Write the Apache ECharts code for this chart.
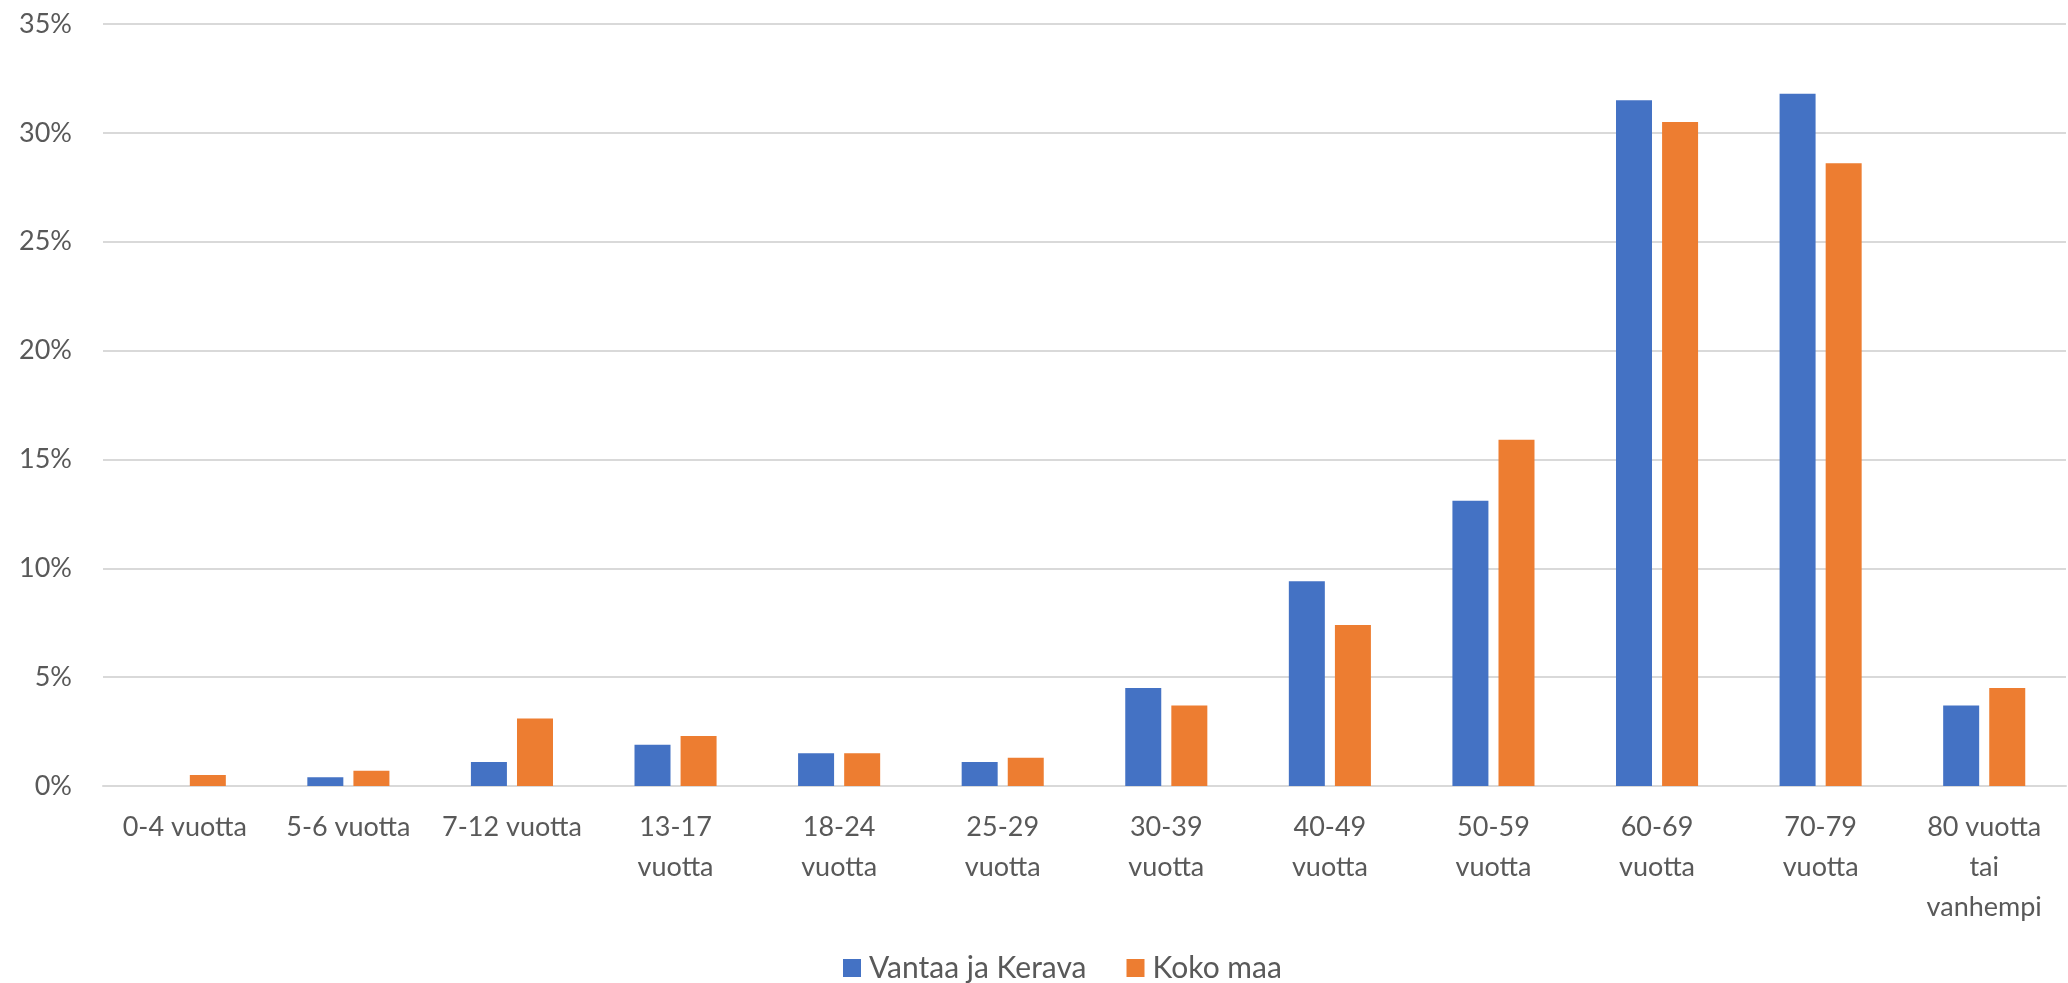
<!DOCTYPE html>
<html>
<head>
<meta charset="utf-8">
<script src="https://cdn.jsdelivr.net/npm/echarts@6/dist/echarts.min.js"></script>
<style>html,body{margin:0;padding:0;background:#fff}#c{width:2068px;height:983px}</style>
</head>
<body>
<div id="c"></div>
<script>
const categories = ['0-4 vuotta','5-6 vuotta','7-12 vuotta','13-17\nvuotta','18-24\nvuotta','25-29\nvuotta','30-39\nvuotta','40-49\nvuotta','50-59\nvuotta','60-69\nvuotta','70-79\nvuotta','80 vuotta\ntai\nvanhempi'];
const seriesNames = ['Vantaa ja Kerava','Koko maa'];
const vantaaKerava = [0, 0.4, 1.1, 1.9, 1.5, 1.1, 4.5, 9.4, 13.1, 31.5, 31.8, 3.7];
const kokoMaa = [0.5, 0.7, 3.1, 2.3, 1.5, 1.3, 3.7, 7.4, 15.9, 30.5, 28.6, 4.5];
const yTicks = {min: 0, max: 35, interval: 5};

const font = 'Lato, "Open Sans", sans-serif';
const chart = echarts.init(document.getElementById('c'), null, {renderer: 'canvas'});
chart.setOption({
  animation: false,
  color: ['#4472C4', '#ED7D31'],
  grid: {left: 103, right: 2, top: 24, bottom: 197, containLabel: false},
  legend: {
    data: seriesNames,
    left: 838, top: 948,
    icon: 'rect', itemWidth: 18, itemHeight: 18, itemGap: 40,
    textStyle: {color: '#595959', fontSize: 30, fontFamily: font, padding: [0, 0, 0, 3]}
  },
  xAxis: {
    type: 'category', data: categories,
    axisLine: {show: true, lineStyle: {color: '#D9D9D9', width: 2}},
    axisTick: {show: false},
    axisLabel: {color: '#595959', fontSize: 27, fontFamily: font, lineHeight: 40, margin: 21, interval: 0}
  },
  yAxis: {
    type: 'value', min: yTicks.min, max: yTicks.max, interval: yTicks.interval,
    axisLine: {show: false}, axisTick: {show: false},
    axisLabel: {color: '#595959', fontSize: 27, fontFamily: font, margin: 31, formatter: '{value}%'},
    splitLine: {lineStyle: {color: '#D9D9D9', width: 2}}
  },
  series: [
    {name: seriesNames[0], type: 'bar', data: vantaaKerava, barWidth: 36, barGap: '28%'},
    {name: seriesNames[1], type: 'bar', data: kokoMaa, barWidth: 36, barGap: '28%'}
  ]
});
</script>
</body>
</html>
